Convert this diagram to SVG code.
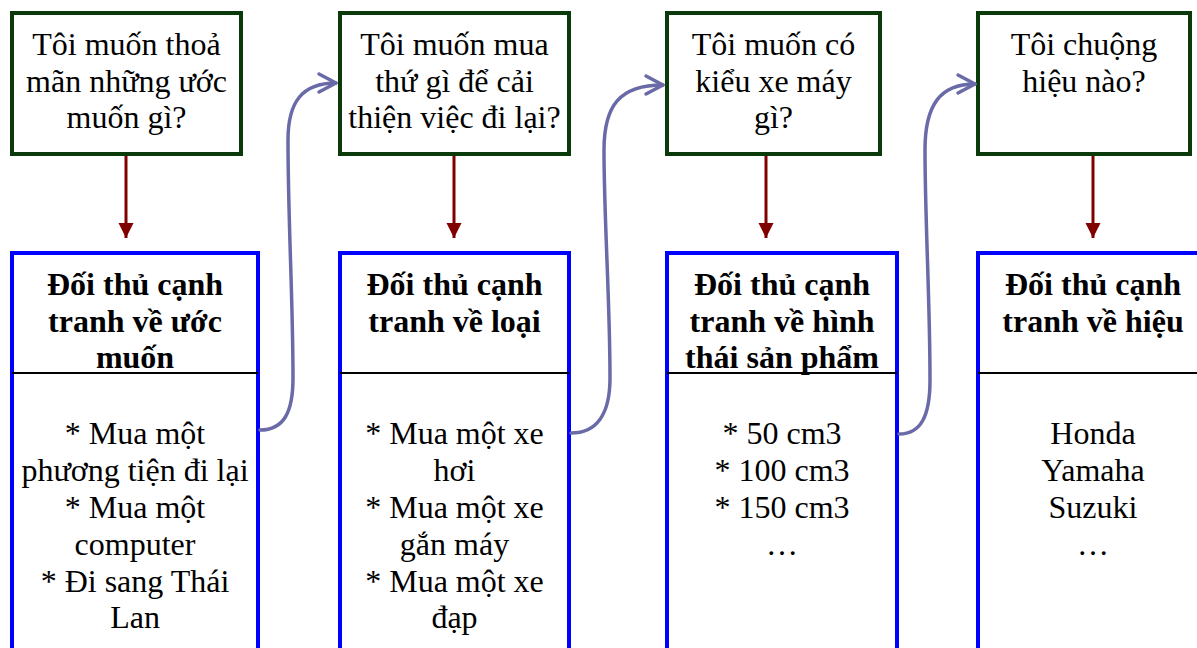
<svg xmlns="http://www.w3.org/2000/svg" width="1197" height="648" viewBox="0 0 1197 648">
<style>
  .q { fill: #ffffff; stroke: #0a3a0a; stroke-width: 4; }
  .c { fill: #ffffff; stroke: #0000ff; stroke-width: 4; }
  .sep { stroke: #000000; stroke-width: 2; }
  text { font-family: "Liberation Serif", "Times New Roman", serif; font-size: 32px; fill: #000000; text-anchor: middle; }
  .b { font-weight: bold; }
  .down { stroke: #800000; stroke-width: 3; fill: none; }
  .curve { stroke: #6a6aa8; stroke-width: 3.5; fill: none; stroke-linecap: round; }
</style>
<defs>
  <marker id="tri" markerUnits="userSpaceOnUse" markerWidth="16" markerHeight="16" viewBox="-15 -8 16 16" refX="0" refY="0" orient="auto">
    <path d="M-15,-7.5 L0,0 L-15,7.5 Z" fill="#800000"/>
  </marker>
  <marker id="chev" markerUnits="userSpaceOnUse" markerWidth="24" markerHeight="24" viewBox="-20 -12 24 24" refX="0" refY="0" orient="auto">
    <path d="M-17,-9 L0,0 L-17,9" fill="none" stroke="#6a6aa8" stroke-width="3.5" stroke-linecap="round" stroke-linejoin="round"/>
  </marker>
</defs>
<rect width="1197" height="648" fill="#ffffff"/>

<g id="q1">
  <rect class="q" x="12" y="13" width="229" height="141"/>
  <text x="126.5" y="55">Tôi muốn thoả</text>
  <text x="126.5" y="91.5">mãn những ước</text>
  <text x="126.5" y="128">muốn gì?</text>
</g>
<g id="q2">
  <rect class="q" x="340" y="13" width="229" height="141"/>
  <text x="454.5" y="55">Tôi muốn mua</text>
  <text x="454.5" y="91.5">thứ gì để cải</text>
  <text x="454.5" y="128">thiện việc đi lại?</text>
</g>
<g id="q3">
  <rect class="q" x="667" y="13" width="213" height="141"/>
  <text x="773.5" y="55">Tôi muốn có</text>
  <text x="773.5" y="91.5">kiểu xe máy</text>
  <text x="773.5" y="128">gì?</text>
</g>
<g id="q4">
  <rect class="q" x="978" y="13" width="212" height="141"/>
  <text x="1084" y="55">Tôi chuộng</text>
  <text x="1084" y="91.5">hiệu nào?</text>
</g>

<g id="c1">
  <rect class="c" x="12" y="253" width="246" height="420"/>
  <line class="sep" x1="12" y1="373" x2="258" y2="373"/>
  <text class="b" x="135" y="295">Đối thủ cạnh</text>
  <text class="b" x="135" y="331.5">tranh về ước</text>
  <text class="b" x="135" y="368">muốn</text>
  <text x="135" y="444">* Mua một</text>
  <text x="135" y="481">phương tiện đi lại</text>
  <text x="135" y="518">* Mua một</text>
  <text x="135" y="555">computer</text>
  <text x="135" y="592">* Đi sang Thái</text>
  <text x="135" y="628">Lan</text>
</g>
<g id="c2">
  <rect class="c" x="340" y="253" width="229" height="420"/>
  <line class="sep" x1="340" y1="373" x2="569" y2="373"/>
  <text class="b" x="454.5" y="295">Đối thủ cạnh</text>
  <text class="b" x="454.5" y="331.5">tranh về loại</text>
  <text x="454.5" y="444">* Mua một xe</text>
  <text x="454.5" y="481">hơi</text>
  <text x="454.5" y="518">* Mua một xe</text>
  <text x="454.5" y="555">gắn máy</text>
  <text x="454.5" y="592">* Mua một xe</text>
  <text x="454.5" y="628">đạp</text>
</g>
<g id="c3">
  <rect class="c" x="667" y="253" width="230" height="420"/>
  <line class="sep" x1="667" y1="373" x2="897" y2="373"/>
  <text class="b" x="782" y="295">Đối thủ cạnh</text>
  <text class="b" x="782" y="331.5">tranh về hình</text>
  <text class="b" x="782" y="368">thái sản phẩm</text>
  <text x="782" y="444">* 50 cm3</text>
  <text x="782" y="481">* 100 cm3</text>
  <text x="782" y="518">* 150 cm3</text>
  <text x="782" y="555">…</text>
</g>
<g id="c4">
  <rect class="c" x="978" y="253" width="240" height="420"/>
  <line class="sep" x1="978" y1="373" x2="1218" y2="373"/>
  <text class="b" x="1093" y="295">Đối thủ cạnh</text>
  <text class="b" x="1093" y="331.5">tranh về hiệu</text>
  <text x="1093" y="444">Honda</text>
  <text x="1093" y="481">Yamaha</text>
  <text x="1093" y="518">Suzuki</text>
  <text x="1093" y="555">…</text>
</g>

<g id="connectors">
  <line class="down" x1="126" y1="156" x2="126" y2="238" marker-end="url(#tri)"/>
  <line class="down" x1="454" y1="156" x2="454" y2="238" marker-end="url(#tri)"/>
  <line class="down" x1="766" y1="156" x2="766" y2="238" marker-end="url(#tri)"/>
  <line class="down" x1="1093" y1="156" x2="1093" y2="238" marker-end="url(#tri)"/>
  <path class="curve" d="M260,430 C284,430 293,412 293,378 C293,300 288,220 288,140 C288,102 302,83 336,83" marker-end="url(#chev)"/>
  <path class="curve" d="M571,433 C596,433 610,415 610,378 C610,300 604,220 604,150 C604,105 620,85 663,85" marker-end="url(#chev)"/>
  <path class="curve" d="M899,434 C921,434 930,416 930,380 C930,300 925,220 925,150 C925,105 940,84 975,84" marker-end="url(#chev)"/>
</g>
</svg>
